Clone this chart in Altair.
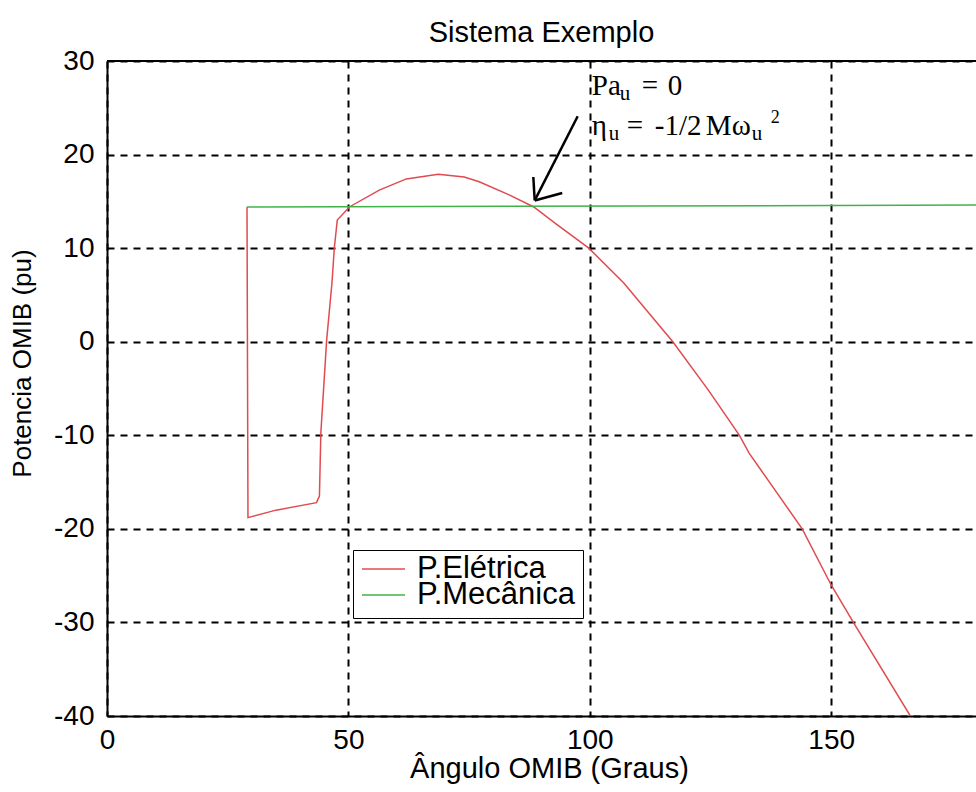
import altair as alt
import pandas as pd

# ---- data ----
angulo_eletrica = [29.0, 29.2, 35.0, 43.4, 44.0, 44.3, 45.5, 46.6, 47.1, 47.7, 50.2,
                   56.4, 62.0, 68.6, 74.0, 77.1, 83.3, 88.4, 93.0, 99.8, 107.0,
                   117.2, 124.6, 131.0, 133.0, 144.0, 150.0, 154.6, 166.4]
p_eletrica = [14.4, -18.8, -18.0, -17.2, -16.5, -9.7, 0.2, 6.3, 10.1, 13.0, 14.4,
              16.2, 17.4, 17.9, 17.6, 17.1, 15.7, 14.4, 12.6, 10.0, 6.3,
              0.0, -5.2, -10.0, -11.9, -20.0, -26.0, -30.0, -40.0]
angulo_mecanica = [29.0, 180.0]
p_mecanica = [14.4, 14.6]
series_names = ["P.Elétrica", "P.Mecânica"]
x_ticks = [0, 50, 100, 150]
y_ticks = [-40, -30, -20, -10, 0, 10, 20, 30]

rows = []
for i, (a, p) in enumerate(zip(angulo_eletrica, p_eletrica)):
    rows.append({"angulo": a, "p": p, "serie": series_names[0], "ordem": i})
for i, (a, p) in enumerate(zip(angulo_mecanica, p_mecanica)):
    rows.append({"angulo": a, "p": p, "serie": series_names[1], "ordem": i})
df = pd.DataFrame(rows)

FONT = "Liberation Sans"
SERIF = "Liberation Serif"

x_scale = alt.Scale(domain=[0, 180], nice=False, zero=False)
y_scale = alt.Scale(domain=[-40, 30], nice=False, zero=False)

x_axis = alt.Axis(values=x_ticks, title="Ângulo OMIB (Graus)", grid=True,
                  gridDash=[7, 6], gridColor="black", gridWidth=2, gridOpacity=1,
                  domainColor="black", domainWidth=2, ticks=False,
                  labelFont=FONT, labelFontSize=28, labelColor="black", labelPadding=10,
                  labelFlush=False, labelExpr="'' + datum.value",
                  titleFont=FONT, titleFontSize=29, titleFontWeight="normal",
                  titleColor="black", titleBaseline="alphabetic", titleY=61, titleX=442)
y_axis = alt.Axis(values=y_ticks, title="Potencia OMIB (pu)", grid=True,
                  gridDash=[7, 6], gridColor="black", gridWidth=2, gridOpacity=1,
                  domainColor="black", domainWidth=2, ticks=False,
                  labelFont=FONT, labelFontSize=28, labelColor="black", labelPadding=13,
                  labelFlush=False, labelExpr="'' + datum.value",
                  titleFont=FONT, titleFontSize=26, titleFontWeight="normal",
                  titleColor="black", titleBaseline="middle", titleAlign="center",
                  titleX=-85, titleY=302, titleAngle=270)

color = alt.Color("serie:N",
                  scale=alt.Scale(domain=series_names, range=["#e04b4f", "#3fb34a"]),
                  legend=alt.Legend(title=None, orient="none", legendX=246, legendY=489,
                                    direction="vertical", strokeColor="black",
                                    fillColor="white", padding=8, cornerRadius=0,
                                    symbolType="stroke", symbolSize=1849,
                                    symbolStrokeWidth=1.5, labelOffset=11,
                                    labelFont=FONT, labelFontSize=31, labelColor="black",
                                    clipHeight=22, rowPadding=-7))

lines = alt.Chart(df).mark_line(strokeWidth=1.5, clip=True).encode(
    x=alt.X("angulo:Q", scale=x_scale, axis=x_axis),
    y=alt.Y("p:Q", scale=y_scale, axis=y_axis),
    color=color,
    order="ordem:Q",
)

one = pd.DataFrame({"k": [0]})
top_border = alt.Chart(one).mark_rule(color="black", strokeWidth=2).encode(
    y=alt.datum(30)
)

# arrow (data coordinates)
arrow_shaft = alt.Chart(one).mark_rule(color="black", strokeWidth=2.5).encode(
    x=alt.datum(97.5), y=alt.datum(24.1), x2=alt.datum(88.6), y2=alt.datum(15.1))
arrow_b1 = alt.Chart(one).mark_rule(color="black", strokeWidth=2.5).encode(
    x=alt.datum(88.6), y=alt.datum(15.1), x2=alt.datum(88.3), y2=alt.datum(17.6))
arrow_b2 = alt.Chart(one).mark_rule(color="black", strokeWidth=2.5).encode(
    x=alt.datum(88.6), y=alt.datum(15.1), x2=alt.datum(94.3), y2=alt.datum(15.9))


def piece(txt, dx, dy, size):
    return alt.Chart(one).mark_text(text=txt, font=SERIF, fontSize=size, color="black",
                                    align="left", baseline="alphabetic",
                                    dx=dx, dy=dy).encode(x=alt.datum(100), y=alt.datum(30))


annot = [
    piece("Pa", 2, 34, 29),
    piece("u", 30, 39, 21),
    piece("=", 52, 34, 29),
    piece("0", 78, 34, 29),
    piece("η", 2, 74, 29),
    piece("u", 19, 79, 21),
    piece("=", 37, 74, 29),
    piece("-1/2", 65, 74, 29),
    piece("M", 116, 74, 29),
    piece("ω", 142, 74, 29),
    piece("u", 162, 79, 21),
    piece("2", 181, 62, 18),
]

chart = alt.layer(top_border, lines, arrow_shaft, arrow_b1, arrow_b2, *annot).properties(
    width=869, height=655,
    title=alt.TitleParams("Sistema Exemplo", font=FONT, fontSize=29, fontWeight="normal",
                          color="black", anchor="middle", baseline="alphabetic", offset=-24),
    autosize=alt.AutoSizeParams(type="none"),
    padding={"left": 107, "top": 61, "right": 0, "bottom": 76},
    background="white",
).configure_view(stroke=None)

chart.save("out.html", embed_options={"renderer": "svg", "actions": False})
